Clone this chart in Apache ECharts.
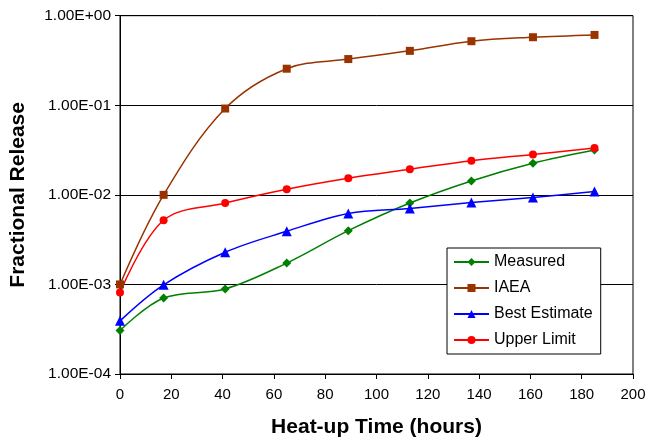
<!DOCTYPE html>
<html>
<head>
<meta charset="utf-8">
<script src="https://cdn.jsdelivr.net/npm/echarts@6/dist/echarts.min.js"></script>
<style>
html,body{margin:0;padding:0;background:#fff;}
#c{width:654px;height:443px;}
</style>
</head>
<body>
<div id="c"></div>
<script>
var hours = [0, 17, 41, 65, 89, 113, 137, 161, 185];
var measured = [0.000306, 0.000706, 0.00089, 0.00173, 0.00398, 0.0081, 0.0143, 0.0225, 0.0316];
var iaea = [0.001, 0.0100, 0.092, 0.256, 0.328, 0.405, 0.519, 0.575, 0.61];
var bestEstimate = [0.000392, 0.00099, 0.00229, 0.00392, 0.0062, 0.00706, 0.0082, 0.00935, 0.0109];
var upperLimit = [0.000815, 0.0052, 0.0081, 0.01157, 0.01534, 0.0193, 0.0241, 0.0283, 0.0333];
var seriesNames = ['Measured', 'IAEA', 'Best Estimate', 'Upper Limit'];
var yTickLabels = ['1.00E+00', '1.00E-01', '1.00E-02', '1.00E-03', '1.00E-04'];
var xTitle = 'Heat-up Time (hours)';
var yTitle = 'Fractional Release';

function pairs(ys){ return hours.map(function(h,i){ return [h, ys[i]]; }); }

var font = 'Liberation Sans, Arial, sans-serif';
var chart = echarts.init(document.getElementById('c'), null, {renderer:'canvas'});

function mk(name, data, color, symbol, size){
  return {
    name: name, type: 'line', data: pairs(data), smooth: 0.35,
    symbol: symbol, symbolSize: size, showSymbol: true,
    lineStyle: {color: color, width: 1.5},
    itemStyle: {color: color},
    emphasis: {disabled: true}, animation: false
  };
}

chart.setOption({
  animation: false,
  backgroundColor: '#fff',
  grid: {left: 116, right: 21, top: 15.7, bottom: 67.3, show: true, borderColor: '#000', borderWidth: 1, backgroundColor: 'transparent'},
  legend: {
    orient: 'vertical', left: 447, top: 248,
    data: seriesNames,
    itemWidth: 35, itemHeight: 10, itemGap: 10,
    padding: [6, 8, 6, 6],
    borderColor: '#000', borderWidth: 1, backgroundColor: '#fff',
    textStyle: {fontFamily: font, fontSize: 16, color: '#000'}
  },
  xAxis: {
    type: 'value', min: 0, max: 200, interval: 20,
    name: xTitle, nameLocation: 'middle', nameGap: 43,
    nameTextStyle: {fontFamily: font, fontSize: 21, fontWeight: 'bold', color: '#000'},
    axisLine: {lineStyle: {color: '#000', width: 1}},
    axisTick: {show: true, length: 5, lineStyle: {color: '#000'}},
    axisLabel: {fontFamily: font, fontSize: 15, color: '#000', margin: 13},
    splitLine: {show: false}
  },
  yAxis: {
    type: 'log', logBase: 10, min: 0.0001, max: 1,
    name: yTitle, nameLocation: 'middle', nameGap: 91,
    nameTextStyle: {fontFamily: font, fontSize: 21, fontWeight: 'bold', color: '#000'},
    axisLine: {show: true, lineStyle: {color: '#000', width: 1}},
    axisTick: {show: true, length: 5, lineStyle: {color: '#000'}},
    axisLabel: {fontFamily: font, fontSize: 15.5, color: '#000', margin: 9,
      formatter: function(v){ var k = Math.round(-Math.log10(v)); return yTickLabels[k] || ''; }},
    splitLine: {show: true, lineStyle: {color: '#000', width: 1}},
    minorTick: {show: false}
  },
  series: [
    mk(seriesNames[0], measured, '#008000', 'diamond', 9),
    mk(seriesNames[1], iaea, '#993300', 'rect', 8),
    mk(seriesNames[2], bestEstimate, '#0000FF', 'triangle', 10),
    mk(seriesNames[3], upperLimit, '#FF0000', 'circle', 8)
  ]
});
</script>
</body>
</html>
